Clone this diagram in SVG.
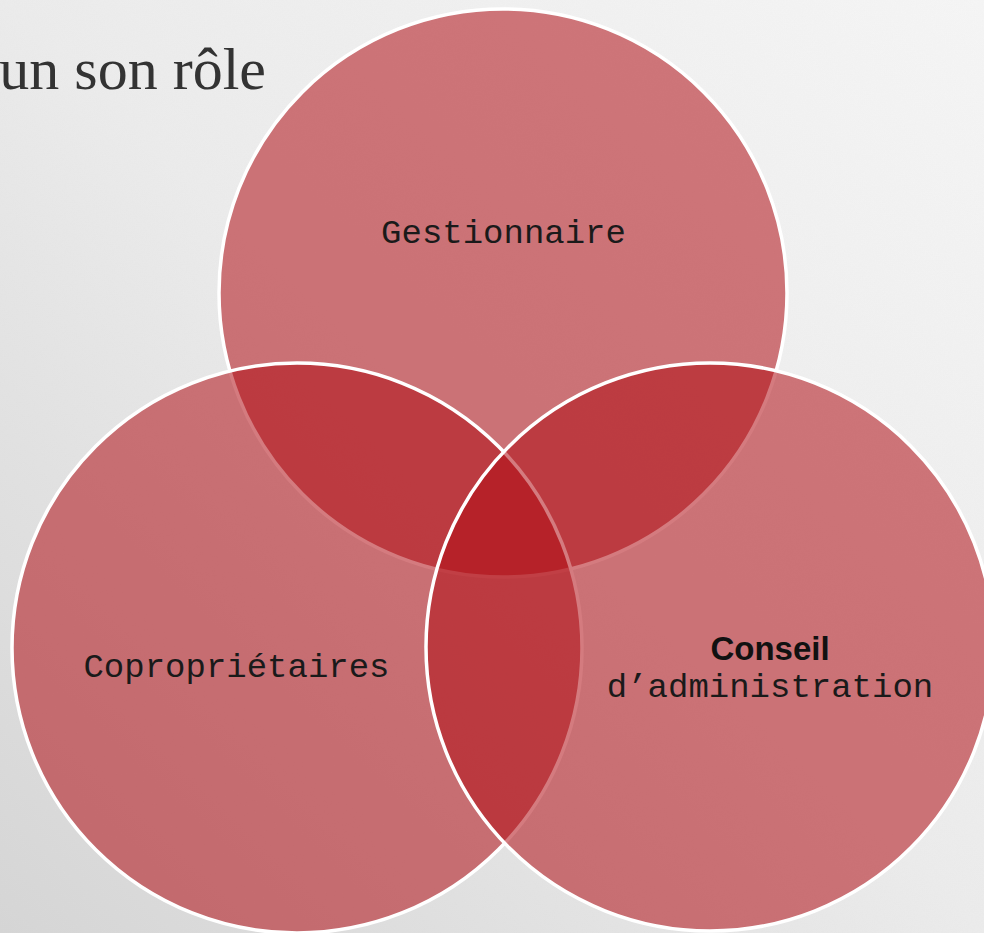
<svg xmlns="http://www.w3.org/2000/svg" width="984" height="933" viewBox="0 0 984 933">
  <defs>
    <linearGradient id="paper" x1="1" y1="0" x2="0" y2="1">
      <stop offset="0" stop-color="#f6f6f6"/>
      <stop offset="0.5" stop-color="#ececec"/>
      <stop offset="1" stop-color="#d6d6d6"/>
    </linearGradient>
    <filter id="grain" x="0" y="0" width="100%" height="100%">
      <feTurbulence type="fractalNoise" baseFrequency="0.9" numOctaves="2" seed="4" result="n"/>
      <feColorMatrix in="n" type="matrix" values="0 0 0 0 0.5  0 0 0 0 0.5  0 0 0 0 0.5  0 0 0 0.06 0"/>
    </filter>
  </defs>
  <style>
    .ring { fill: rgb(176,14,22); fill-opacity: 0.55; stroke: #ffffff; stroke-width: 3.5; }
    .lbl { font-family: "Liberation Mono", "Courier New", monospace; font-size: 34px; fill: #1a1a1a; text-anchor: middle; }
    .bold { font-family: "Liberation Sans", Arial, sans-serif; font-weight: bold; font-size: 33px; fill: #111111; text-anchor: middle; }
    .title { font-family: "Liberation Serif", "Times New Roman", serif; font-size: 60px; fill: #333333; }
  </style>

  <!-- paper background -->
  <rect width="984" height="933" fill="url(#paper)"/>
  <rect width="984" height="933" filter="url(#grain)"/>

  <text class="title" x="266" y="89" text-anchor="end">un son rôle</text>

  <!-- three overlapping circles, drawn top, left, right -->
  <g id="gestionnaire">
    <circle class="ring" cx="503" cy="293" r="284"/>
    <text class="lbl" x="503.5" y="243">Gestionnaire</text>
  </g>
  <g id="coproprietaires">
    <circle class="ring" cx="297" cy="648" r="285"/>
    <text class="lbl" x="236.5" y="677">Copropriétaires</text>
  </g>
  <g id="conseil">
    <circle class="ring" cx="710" cy="647" r="284"/>
    <text class="bold" x="770" y="660">Conseil</text>
    <text class="lbl" x="770" y="697">d’administration</text>
  </g>

  <g id="connectors"/>
</svg>
